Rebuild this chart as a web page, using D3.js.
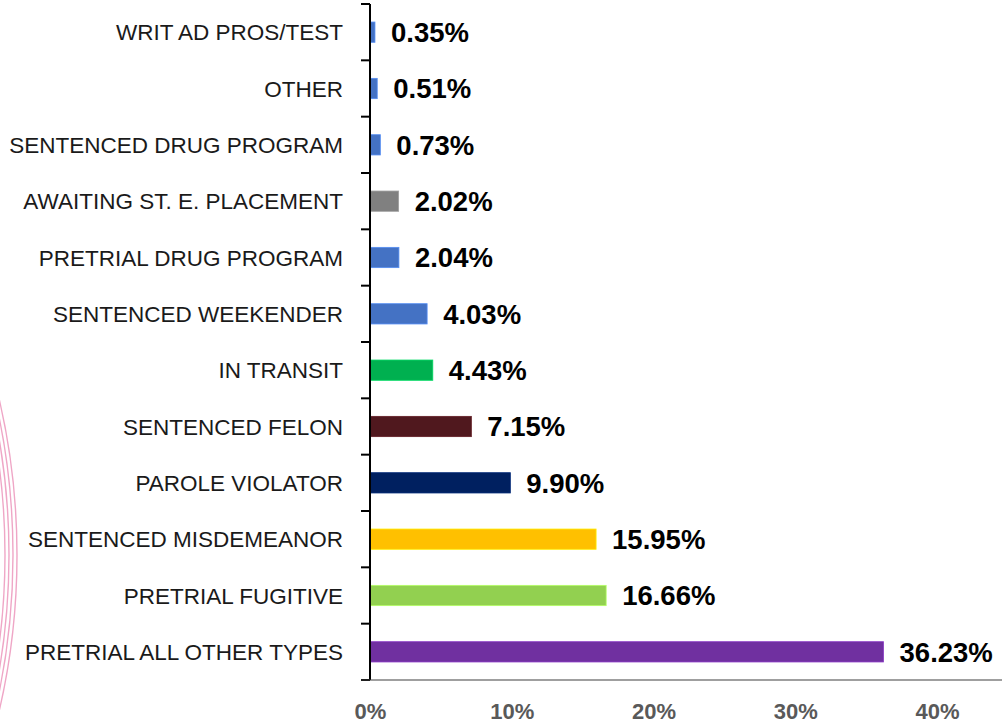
<!DOCTYPE html>
<html>
<head>
<meta charset="utf-8">
<title>Population by status</title>
<script src="https://cdn.jsdelivr.net/npm/d3@7"></script>
<style>
    body { margin: 0; background: #fff; }
    svg { display: block; }
    .cat { font-family: "Liberation Sans", Arial, sans-serif; font-size: 22.5px; fill: #1a1a1a; }
    .val { font-family: "Liberation Sans", Arial, sans-serif; font-size: 27.5px; font-weight: bold; fill: #000; }
    .tick text { font-family: "Liberation Sans", Arial, sans-serif; font-size: 22px; font-weight: bold; fill: #595959; }
</style>
</head>
<body>
<svg></svg>
<script>
// categories top to bottom
var categories = [
    'WRIT AD PROS/TEST',
    'OTHER',
    'SENTENCED DRUG PROGRAM',
    'AWAITING ST. E. PLACEMENT',
    'PRETRIAL DRUG PROGRAM',
    'SENTENCED WEEKENDER',
    'IN TRANSIT',
    'SENTENCED FELON',
    'PAROLE VIOLATOR',
    'SENTENCED MISDEMEANOR',
    'PRETRIAL FUGITIVE',
    'PRETRIAL ALL OTHER TYPES'
];
var shares = [0.0035, 0.0051, 0.0073, 0.0202, 0.0204, 0.0403, 0.0443, 0.0715, 0.0990, 0.1595, 0.1666, 0.3623];
var barColors = ['#4472c4', '#4472c4', '#4472c4', '#808080', '#4472c4', '#4472c4',
    '#00b050', '#50181e', '#002060', '#ffc000', '#92d050', '#7030a0'];
var xTicks = [0, 0.1, 0.2, 0.3, 0.4];

var width = 1002,
    height = 725,
    margin = {top: 4, left: 370, bottom: 45};

var svg = d3.select('svg')
    .attr('width', width)
    .attr('height', height);

// decorative pink arcs on the left edge
var arcs = svg.append('g');
[688, 684, 680, 676].forEach(function(r) {
    arcs.append('circle')
        .attr('cx', -671)
        .attr('cy', 555)
        .attr('r', r)
        .attr('fill', 'none')
        .attr('stroke', '#efa6c6')
        .attr('stroke-width', 1.4);
});

var data = categories.map(function(c, i) {
    return {name: c, value: shares[i], color: barColors[i]};
});

var x = d3.scaleLinear()
    .domain([0, 0.4])
    .range([margin.left, 937]);

var y = d3.scaleBand()
    .domain(categories)
    .range([margin.top, height - margin.bottom])
    .paddingInner(0.64)
    .paddingOuter(0.32);

var step = y.step(),
    axisBottomY = height - margin.bottom;

// bars
svg.append('g').selectAll('rect')
    .data(data)
  .enter().append('rect')
    .attr('x', x(0))
    .attr('y', function(d) { return y(d.name); })
    .attr('width', function(d) { return x(d.value) - x(0); })
    .attr('height', y.bandwidth())
    .attr('fill', function(d) { return d.color; })
    .attr('stroke', function(d) { return d3.color(d.color).brighter(0.6); })
    .attr('stroke-width', 0.8);

// value labels
svg.append('g').selectAll('text')
    .data(data)
  .enter().append('text')
    .attr('class', 'val')
    .attr('x', function(d) { return x(d.value) + 16; })
    .attr('y', function(d) { return y(d.name) + y.bandwidth() / 2; })
    .attr('dy', '0.36em')
    .text(function(d) { return d3.format('.2%')(d.value); });

// category labels
svg.append('g').selectAll('text')
    .data(data)
  .enter().append('text')
    .attr('class', 'cat')
    .attr('x', x(0) - 27)
    .attr('y', function(d) { return y(d.name) + y.bandwidth() / 2; })
    .attr('dy', '0.36em')
    .attr('text-anchor', 'end')
    .text(function(d) { return d.name; });

// y axis with ticks between categories
var yAxis = svg.append('g').attr('stroke', '#000');
yAxis.append('line')
    .attr('x1', x(0)).attr('x2', x(0))
    .attr('y1', margin.top).attr('y2', axisBottomY)
    .attr('stroke-width', 2);
d3.range(categories.length + 1).forEach(function(i) {
    var ty = margin.top + i * step;
    yAxis.append('line')
        .attr('x1', x(0) - 9).attr('x2', x(0))
        .attr('y1', ty).attr('y2', ty)
        .attr('stroke-width', 2);
});

// x axis line
svg.append('line')
    .attr('x1', x(0) - 9).attr('x2', width)
    .attr('y1', axisBottomY).attr('y2', axisBottomY)
    .attr('stroke', '#404040')
    .attr('stroke-width', 1.2);

// x tick labels
var xAxis = svg.append('g')
    .attr('transform', 'translate(0,' + axisBottomY + ')')
    .call(d3.axisBottom(x)
        .tickValues(xTicks)
        .tickFormat(d3.format('.0%'))
        .tickSize(0)
        .tickPadding(23));
xAxis.select('.domain').remove();
</script>
</body>
</html>
